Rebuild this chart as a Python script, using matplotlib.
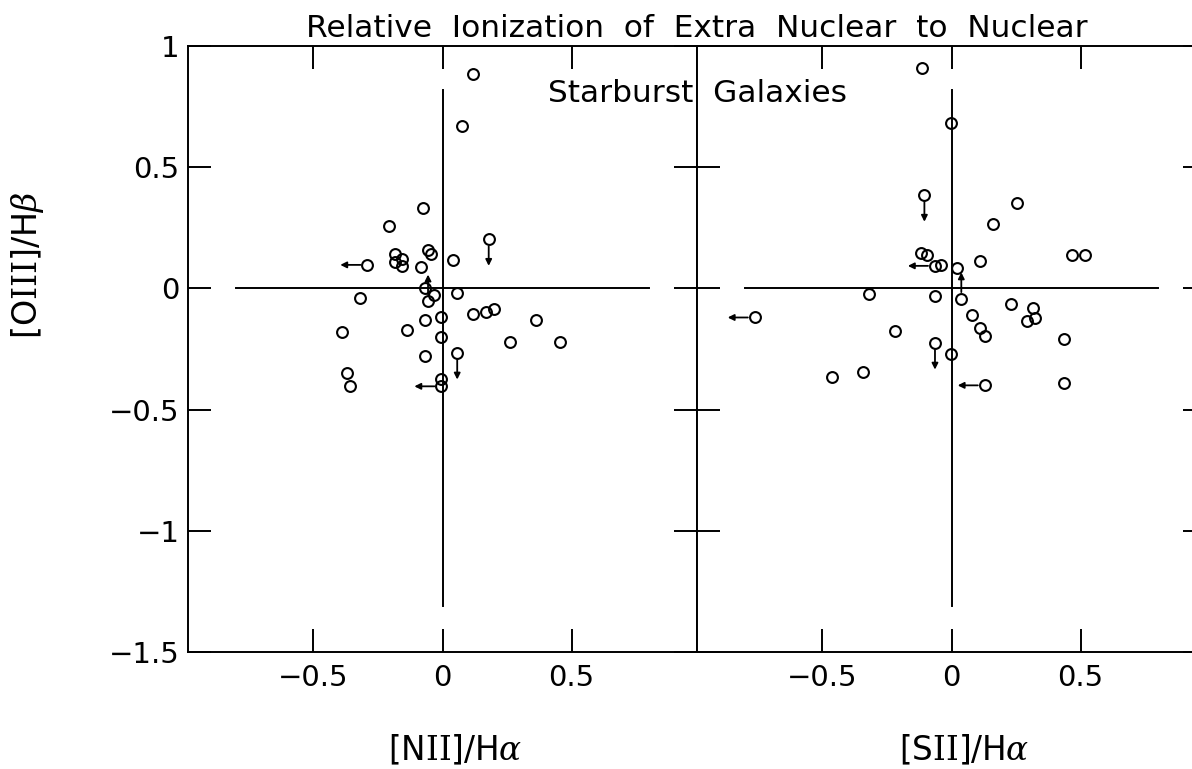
import matplotlib
matplotlib.use('Agg')
import matplotlib.pyplot as plt

# ---------------- data ----------------
title_text = "Relative  Ionization  of  Extra  Nuclear  to  Nuclear"
subtitle_text = "Starburst  Galaxies"

# Left panel: [NII]/Halpha vs [OIII]/Hbeta
nii_x = [0.119, 0.076, -0.075, -0.207, 0.179, -0.056, -0.045, 0.039, -0.185, -0.155,
         -0.185, -0.155, -0.291, -0.085, -0.066, -0.034, -0.056, 0.057, -0.321, -0.004,
         -0.066, 0.117, 0.168, 0.200, 0.364, -0.391, -0.137, -0.004, 0.262, 0.457,
         0.057, -0.066, -0.370, -0.359, -0.004, -0.004]
nii_y = [0.886, 0.672, 0.333, 0.259, 0.203, 0.160, 0.141, 0.119, 0.140, 0.120,
         0.110, 0.091, 0.097, 0.088, 0.003, -0.029, -0.053, -0.021, -0.041, -0.118,
         -0.129, -0.105, -0.097, -0.087, -0.129, -0.181, -0.170, -0.202, -0.223, -0.223,
         -0.266, -0.277, -0.351, -0.404, -0.372, -0.404]
nii_limit = ['', '', '', '', 'down', '', '', '', '', '',
             '', '', 'left', '', '', '', 'up', '', '', '',
             '', '', '', '', '', '', '', '', '', '',
             'down', '', '', '', '', 'left']

# Right panel: [SII]/Halpha vs [OIII]/Hbeta
sii_x = [-0.116, -0.003, -0.105, 0.253, 0.160, -0.118, -0.095, 0.468, 0.519, 0.109,
         -0.064, -0.042, 0.020, -0.320, -0.064, 0.038, -0.762, 0.078, 0.232, 0.315,
         0.325, 0.293, 0.110, 0.130, -0.218, 0.437, -0.064, -0.003, -0.342, -0.463,
         0.129, 0.437]
sii_y = [0.909, 0.682, 0.385, 0.353, 0.266, 0.148, 0.136, 0.136, 0.136, 0.113,
         0.093, 0.097, 0.086, -0.022, -0.032, -0.044, -0.120, -0.109, -0.066, -0.079,
         -0.123, -0.133, -0.165, -0.196, -0.174, -0.207, -0.225, -0.270, -0.344, -0.366,
         -0.400, -0.390]
sii_limit = ['', '', 'down', '', '', '', '', '', '', '',
             'left', '', '', '', '', 'up', 'left', '', '', '',
             '', '', '', '', '', '', 'down', '', '', '',
             'left', '']

x_ticks = [-0.5, 0, 0.5]
x_ticklabels = ['\u22120.5', '0', '0.5']
y_ticks = [1, 0.5, 0, -0.5, -1, -1.5]
y_ticklabels = ['1', '0.5', '0', '\u22120.5', '\u22121', '\u22121.5']

# reference cross lines (x from -0.8 to 0.8 at y=0; y from -1.31 to 0.82 at x=0)
hline_x = [-0.8, 0.8]
vline_y = [-1.31, 0.82]

# ---------------- figure ----------------
plt.rcParams['font.family'] = ['DejaVu Sans']
plt.rcParams['mathtext.fontset'] = 'custom'
plt.rcParams['mathtext.rm'] = 'DejaVu Serif'
plt.rcParams['mathtext.it'] = 'DejaVu Serif:italic'

W, H = 1192, 769
fig = plt.figure(figsize=(W / 100, H / 100), dpi=100)


def box(l, t, r, b):
    return [l / W, 1 - b / H, (r - l) / W, (b - t) / H]


ax1 = fig.add_axes(box(188, 46, 697, 652))
ax2 = fig.add_axes(box(697, 46, 1206, 652))

LW = 1.4
for ax, xs, ys, lims in [(ax1, nii_x, nii_y, nii_limit), (ax2, sii_x, sii_y, sii_limit)]:
    ax.set_xlim(-0.986, 0.986)
    ax.set_ylim(-1.5, 1.0)
    ax.set_xticks(x_ticks)
    ax.set_xticklabels(x_ticklabels)
    ax.set_yticks(y_ticks)
    ax.set_yticklabels(y_ticklabels)
    ax.tick_params(direction='in', length=16.5, width=LW, top=True, right=True,
                   labelsize=21, color='black')
    ax.tick_params(axis='x', pad=9)
    ax.tick_params(axis='y', pad=6)
    for s in ax.spines.values():
        s.set_linewidth(LW)
    ax.plot(hline_x, [0, 0], color='black', lw=LW)
    ax.plot([0, 0], vline_y, color='black', lw=LW)
    ax.plot(xs, ys, 'o', mfc='none', mec='black', ms=7.8, mew=1.5, clip_on=False)
    for x, y, lim in zip(xs, ys, lims):
        if not lim:
            continue
        dx, dy = {'down': (0, -0.11), 'up': (0, 0.11), 'left': (-0.105, 0)}[lim]
        ax.annotate('', xy=(x + dx, y + dy), xytext=(x, y),
                    arrowprops=dict(arrowstyle='-|>', color='black', lw=1.3,
                                    shrinkA=5, shrinkB=0, mutation_scale=9))

ax2.tick_params(labelleft=False)

fig.text(697 / W, 1 - 37 / H, title_text, ha='center', va='baseline', fontsize=22.5)
fig.text(697.5 / W, 1 - 102 / H, subtitle_text, ha='center', va='baseline', fontsize=22.5)
fig.text(455 / W, 1 - 750 / H, r'[N$\mathrm{II}$]/H$\alpha$', ha='center', va='center', fontsize=23.5)
fig.text(964 / W, 1 - 750 / H, r'[S$\mathrm{II}$]/H$\alpha$', ha='center', va='center', fontsize=23.5)
fig.text(28 / W, 1 - 265 / H, r'[O$\mathrm{III}$]/H$\beta$', ha='center', va='center',
         fontsize=24, rotation=90)

fig.savefig('out.png', dpi=100)
